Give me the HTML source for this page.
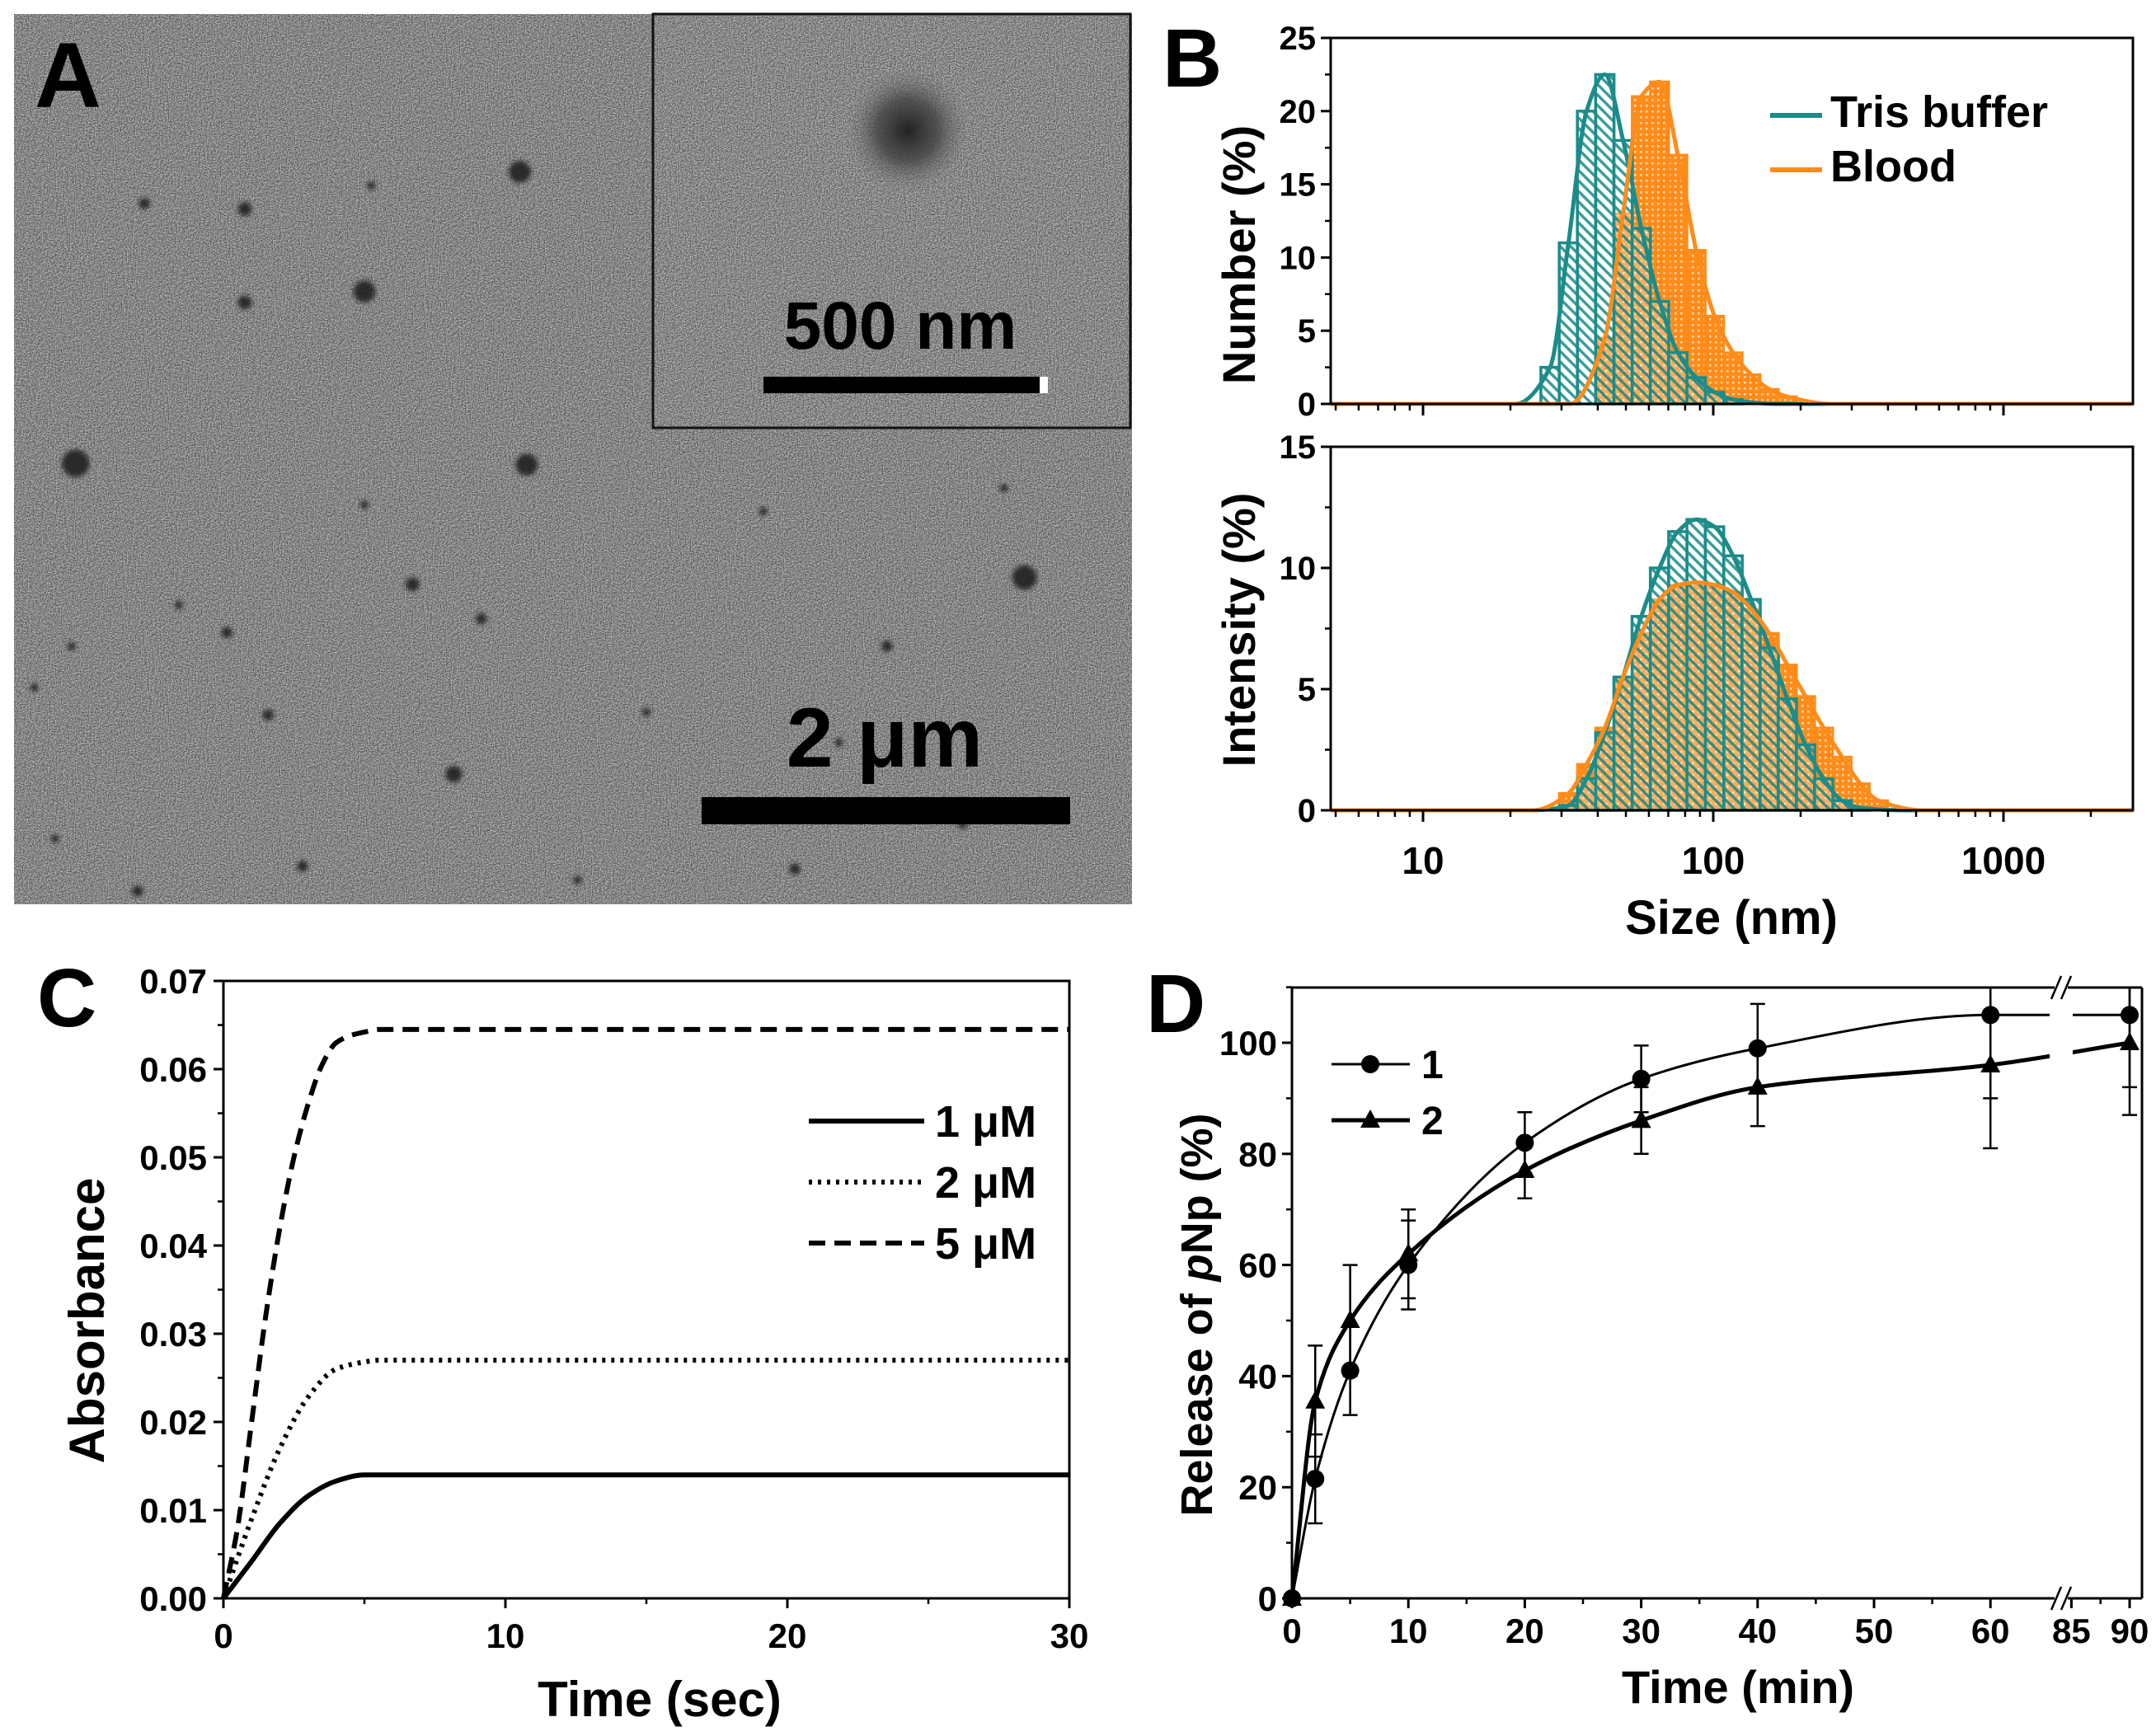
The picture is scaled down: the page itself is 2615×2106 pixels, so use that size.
<!DOCTYPE html>
<html><head><meta charset="utf-8"><title>Figure</title>
<style>
html,body{margin:0;padding:0;background:#fff;}
svg{display:block;}
text{font-family:"Liberation Sans",Arial,sans-serif;font-weight:bold;fill:#000;}
</style></head>
<body>
<svg id="fig" xmlns="http://www.w3.org/2000/svg" width="2615" height="2106" viewBox="0 0 2615 2106">
<defs>
<filter id="noise" x="0" y="0" width="100%" height="100%" color-interpolation-filters="sRGB">
<feTurbulence type="fractalNoise" baseFrequency="0.7" numOctaves="2" seed="3"/>
<feColorMatrix type="saturate" values="0"/>
<feComponentTransfer>
<feFuncR type="linear" slope="2.6" intercept="-0.8"/>
<feFuncG type="linear" slope="2.6" intercept="-0.8"/>
<feFuncB type="linear" slope="2.6" intercept="-0.8"/>
<feFuncA type="table" tableValues="0.5 0.5"/></feComponentTransfer>
</filter>
<filter id="soft" color-interpolation-filters="sRGB"><feGaussianBlur stdDeviation="3"/></filter>
<radialGradient id="blob"><stop offset="0" stop-color="#222"/><stop offset="0.5" stop-color="#444" stop-opacity="0.8"/><stop offset="1" stop-color="#777" stop-opacity="0"/></radialGradient>
<pattern id="hatchT" patternUnits="userSpaceOnUse" width="9" height="9" patternTransform="rotate(-45)">
<rect width="9" height="9" fill="#ffffff" fill-opacity="0.35"/><rect width="3.5" height="9" fill="#1b8c8a"/></pattern>
<pattern id="hatchB" patternUnits="userSpaceOnUse" width="7" height="7">
<rect width="7" height="7" fill="#ff8c1a"/><rect x="1" y="1" width="2.5" height="2.5" fill="#ffd9b0"/></pattern>
</defs>

<g id="panelA">
<rect x="17" y="17" width="1356" height="1080" fill="#8c8c8c"/>
<rect x="17" y="17" width="1356" height="1080" filter="url(#noise)"/>
<g id="dots" filter="url(#soft)"></g>
<rect x="792" y="17" width="579" height="502" fill="#909090" stroke="#111" stroke-width="3"/>
<rect x="794" y="19" width="575" height="498" filter="url(#noise)"/>
<circle cx="1101" cy="158" r="75" fill="url(#blob)"/>
<rect x="926" y="457" width="340" height="20" fill="#000"/>
<rect x="1261" y="457" width="10" height="20" fill="#fff"/>
<text x="1092" y="423" font-size="82" text-anchor="middle">500 nm</text>
<rect x="851" y="967" width="447" height="33" fill="#000"/>
<text x="1073" y="930" font-size="102" text-anchor="middle">2 μm</text>
<text x="42" y="130" font-size="112">A</text>
</g>

<text x="1410" y="105" font-size="100">B</text>
<g id="panelB"></g>
<text x="45" y="1245" font-size="100">C</text>
<g id="panelC"></g>
<text x="1390" y="1252" font-size="100">D</text>
<g id="panelD"></g>
</svg>
<script>
// ===== Panel B data =====
const binSizes = [27.4,31.7,36.6,42.3,48.9,56.5,65.3,75.5,87.3,101,117,135,156,180,208,240,278,321,371,429,496];
const trisNumberIdx = [0,1,2,3,4,5,6,7,8,9,10];
const trisNumber = [2.5,11,20,22.5,18,12,7,3.5,1.8,0.8,0.3];
const bloodNumberIdx = [3,4,5,6,7,8,9,10,11,12,13];
const bloodNumber = [4.5,13,21,22,17,10.5,6,3.5,2,1,0.5];
const trisIntIdx = [1,2,3,4,5,6,7,8,9,10,11,12,13,14,15,16,17];
const trisIntensity = [0.2,1.3,3.2,5.5,8,10,11.5,12,11.7,10.5,8.7,6.7,4.6,2.7,1.3,0.4,0.1];
const bloodIntIdx = [1,2,3,4,5,6,7,8,9,10,11,12,13,14,15,16,17,18];
const bloodIntensity = [0.7,1.9,3.4,5.5,7.3,8.7,9.3,9.4,9.3,9,8.3,7.3,6,4.7,3.4,2.2,1.1,0.4];
const bNumberTicks = [0,5,10,15,20,25];
const bIntTicks = [0,5,10,15];
const bXTicks = [10,100,1000];
// ===== Panel C data =====
const cTime5 = [0,0.5,1,1.5,2,2.5,3,3.5,4,4.5,5,5.5,6,30];
const cAbs5 = [0,0.008,0.02,0.032,0.042,0.05,0.056,0.0605,0.063,0.0638,0.0642,0.0645,0.0645,0.0645];
const cTime2 = [0,1,2,3,4,5,5.5,30];
const cAbs2 = [0,0.009,0.017,0.0228,0.026,0.0268,0.027,0.027];
const cTime1 = [0,1,2,3,4,5,30];
const cAbs1 = [0,0.0042,0.0085,0.0116,0.0133,0.014,0.014];
const cYTicks = [0,0.01,0.02,0.03,0.04,0.05,0.06,0.07];
const cXTicks = [0,10,20,30];
// ===== Panel D data =====
const dTime = [0,2,5,10,20,30,40,60,90];
const dRel1 = [0,21.5,41,60,82,93.5,99,105,105];
const dErr1 = [0,8,8,8,5.5,6,8,15,13];
const dRel2 = [0,35.5,50,62,77,86,92,96,100];
const dErr2 = [0,10,10,8,5,6,7,15,13];
const dYTicks = [0,20,40,60,80,100];
const dXTicks = [0,10,20,30,40,50,60,85,90];

const NS = "http://www.w3.org/2000/svg";
function mk(parent, tag, attrs, txt){ const e=document.createElementNS(NS,tag); for(const k in attrs) e.setAttribute(k,attrs[k]); if(txt!==undefined) e.textContent=txt; parent.appendChild(e); return e; }
// monotone cubic (Fritsch-Carlson) through points sorted by x
function mono(pts){ const n=pts.length; if(n<2) return ""; const dx=[],s=[],m=[];
 for(let i=0;i<n-1;i++){ dx[i]=pts[i+1][0]-pts[i][0]; s[i]=(pts[i+1][1]-pts[i][1])/dx[i]; }
 m[0]=s[0]; m[n-1]=s[n-2];
 for(let i=1;i<n-1;i++){ if(s[i-1]*s[i]<=0) m[i]=0; else { const w1=2*dx[i]+dx[i-1], w2=dx[i]+2*dx[i-1]; m[i]=(w1+w2)/(w1/s[i-1]+w2/s[i]); } }
 let d="M"+pts[0][0]+","+pts[0][1];
 for(let i=0;i<n-1;i++){ const h=dx[i]/3; d+=" C"+(pts[i][0]+h)+","+(pts[i][1]+m[i]*h)+" "+(pts[i+1][0]-h)+","+(pts[i+1][1]-m[i+1]*h)+" "+pts[i+1][0]+","+pts[i+1][1]; }
 return d; }

const dotsG=document.getElementById('dots');
[[378,125,8],[265,212,8],[55,337,10],[383,338,8],[745,420,9],[178,152,5],[105,148,4],[178,220,5],[330,563,6],[300,425,5],[165,460,4],[130,440,3],[350,450,4],[220,630,4],[100,648,4],[578,632,4],[555,372,3],[645,470,4],[470,518,3],[265,367,3],[195,520,4],[52,470,3],[270,135,3],[420,640,3],[610,540,3],[700,600,3],[730,355,3],[25,500,3],[40,610,3]].forEach(p=>{
 const c=mk(dotsG,'circle',{cx:p[0]*1.668,cy:p[1]*1.668,r:p[2]*1.668,fill:'#1a1a1a','fill-opacity':0.85});
 
 
});

// ---- Panel B ----
const B=document.getElementById('panelB');
const bxL=1614,bxR=2587, bx10=1726, bDec=352;
function bx(v){ return bx10+(Math.log10(v)-1)*bDec; }
const halfBin=0.0635/2;
function binEdges(i){ const l=Math.log10(binSizes[i]); return [bx(Math.pow(10,l-halfBin)),bx(Math.pow(10,l+halfBin))]; }
function drawDLS(top,bottom,ymax,ticks,idxT,valT,idxB,valB,title,ttlY,showX){
 const ys=v=>bottom-(v/ymax)*(bottom-top);
 const g=mk(B,'g',{});
 
 
 idxB.forEach((bi,k)=>{ const e=binEdges(bi); const r=mk(g,'rect',{x:e[0],y:ys(valB[k]),width:e[1]-e[0],height:bottom-ys(valB[k]),fill:'url(#hatchB)',stroke:'#ff8c1a','stroke-width':3});
  
   });
 idxT.forEach((bi,k)=>{ const e=binEdges(bi); const r=mk(g,'rect',{x:e[0],y:ys(valT[k]),width:e[1]-e[0],height:bottom-ys(valT[k]),fill:'url(#hatchT)','fill-opacity':0.85,stroke:'#1b8c8a','stroke-width':3.5});
  
   });
 function curve(idx,val,col){ const pts=[[bxL,bottom]]; const first=Math.log10(binSizes[idx[0]]);
  pts.push([bx(Math.pow(10,first-0.12)),bottom]);
  idx.forEach((bi,k)=>pts.push([bx(binSizes[bi]),ys(val[k])]));
  const last=Math.log10(binSizes[idx[idx.length-1]]); pts.push([bx(Math.pow(10,last+0.15)),bottom]); pts.push([bxR,bottom]);
  const p=mk(g,'path',{d:mono(pts),fill:'none',stroke:col,'stroke-width':5});
  
   }
 curve(idxT,valT,'#1b8c8a'); curve(idxB,valB,'#ff8c1a');
 const fr=mk(g,'rect',{x:bxL,y:top,width:bxR-bxL,height:bottom-top,fill:'none',stroke:'#000','stroke-width':3});
 
 
 ticks.forEach(t=>{ mk(g,'line',{x1:bxL-12,x2:bxL,y1:ys(t),y2:ys(t),stroke:'#000','stroke-width':3});
  const tx=mk(g,'text',{x:bxL-18,y:ys(t)+14,'font-size':40,'text-anchor':'end'},String(t));
  
  
  if(t<ymax) mk(g,'line',{x1:bxL-7,x2:bxL,y1:ys(t+2.5),y2:ys(t+2.5),stroke:'#000','stroke-width':2.5}); });
 for(let d=0;d<4;d++) for(let m=1;m<10;m++){ const v=m*Math.pow(10,d); const x=bx(v); if(x<bxL-1||x>bxR+1) continue;
  mk(g,'line',{x1:x,x2:x,y1:bottom,y2:bottom+(m===1?14:8),stroke:'#000','stroke-width':m===1?3:2.5}); }
 const yt=mk(g,'text',{x:0,y:0,'font-size':56,'text-anchor':'middle',transform:`translate(1522,${ttlY}) rotate(-90)`},title);
 
 
 if(showX){ bXTicks.forEach(v=>{ const t=mk(g,'text',{x:bx(v),y:1060,'font-size':46,'text-anchor':'middle'},String(v));
   
    }); }
}
drawDLS(46,490,25,bNumberTicks,trisNumberIdx,trisNumber,bloodNumberIdx,bloodNumber,'Number (%)',309,false);
drawDLS(542,983,15,bIntTicks,trisIntIdx,trisIntensity,bloodIntIdx,bloodIntensity,'Intensity (%)',764,true);
const bxt=mk(B,'text',{x:2100,y:1133,'font-size':58,'text-anchor':'middle'},'Size (nm)');


[['Tris buffer','#1b8c8a',132],['Blood','#ff8c1a',198]].forEach(l=>{
 const lg=mk(B,'g',{});
 
 
 mk(lg,'line',{x1:2147,x2:2210,y1:l[2]+8,y2:l[2]+8,stroke:l[1],'stroke-width':6});
 mk(lg,'text',{x:2220,y:l[2]+22,'font-size':54},l[0]);
});

// ---- Panel C ----
const C=document.getElementById('panelC');
const cL=271,cR=1297,cT=1190,cB=1939;
const cx=t=>cL+t/30*(cR-cL), cy=v=>cB-v/0.07*(cB-cT);
const cf=mk(C,'rect',{x:cL,y:cT,width:cR-cL,height:cB-cT,fill:'none',stroke:'#000','stroke-width':3});


cYTicks.forEach(v=>{ mk(C,'line',{x1:cL-12,x2:cL,y1:cy(v),y2:cy(v),stroke:'#000','stroke-width':3});
 if(v<0.07) mk(C,'line',{x1:cL-7,x2:cL,y1:cy(v+0.005),y2:cy(v+0.005),stroke:'#000','stroke-width':2.5});
 const t=mk(C,'text',{x:cL-20,y:cy(v)+15,'font-size':42,'text-anchor':'end'},v.toFixed(2));
 
  });
cXTicks.forEach(v=>{ mk(C,'line',{x1:cx(v),x2:cx(v),y1:cB,y2:cB+12,stroke:'#000','stroke-width':3});
 if(v<30) mk(C,'line',{x1:cx(v+5),x2:cx(v+5),y1:cB,y2:cB+7,stroke:'#000','stroke-width':2.5});
 const t=mk(C,'text',{x:cx(v),y:1999,'font-size':42,'text-anchor':'middle'},String(v));
 
  });
[[cTime1,cAbs1,'none','curve-1uM'],[cTime2,cAbs2,'4,7','curve-2uM'],[cTime5,cAbs5,'20,11','curve-5uM']].forEach(s=>{
 const pts=s[0].map((t,i)=>[cx(t),cy(s[1][i])]);
 const p=mk(C,'path',{d:mono(pts),fill:'none',stroke:'#000','stroke-width':6,'stroke-dasharray':s[2]});
 
 
});
[['1 μM','none',1360],['2 μM','4,7',1434],['5 μM','20,11',1508]].forEach(l=>{
 const lg=mk(C,'g',{});
 
 
 mk(lg,'line',{x1:981,x2:1121,y1:l[2],y2:l[2],stroke:'#000','stroke-width':6,'stroke-dasharray':l[1]});
 mk(lg,'text',{x:1134,y:l[2]+19,'font-size':54},l[0]);
});
const cyt=mk(C,'text',{x:0,y:0,'font-size':60,'text-anchor':'middle',transform:'translate(126,1602) rotate(-90)'},'Absorbance');


const cxt=mk(C,'text',{x:800,y:2082,'font-size':60,'text-anchor':'middle'},'Time (sec)');



// ---- Panel D ----
const D=document.getElementById('panelD');
const dL=1567,dR=2598,dT=1198,dB=1939, dPx=14.12, brk=2500;
const dx=t=> t<=70 ? dL+t*dPx : 2583-(90-t)*dPx;
const dy=v=>dB-v*(dB-1265)/100;
mk(D,'line',{x1:dL,x2:dL,y1:dT,y2:dB,stroke:'#000','stroke-width':3});
mk(D,'line',{x1:dR,x2:dR,y1:dT,y2:dB,stroke:'#000','stroke-width':3});
[dT,dB].forEach(y=>{ mk(D,'line',{x1:dL,x2:brk-8,y1:y,y2:y,stroke:'#000','stroke-width':3});
 mk(D,'line',{x1:brk+8,x2:dR,y1:y,y2:y,stroke:'#000','stroke-width':3});
 [-6,6].forEach(o=>mk(D,'line',{x1:brk+o-6,x2:brk+o+6,y1:y+14,y2:y-14,stroke:'#000','stroke-width':2.5})); });
dYTicks.forEach(v=>{ mk(D,'line',{x1:dL-12,x2:dL,y1:dy(v),y2:dy(v),stroke:'#000','stroke-width':3});
 mk(D,'line',{x1:dL-7,x2:dL,y1:dy(v+10),y2:dy(v+10),stroke:'#000','stroke-width':2.5});
 const t=mk(D,'text',{x:dL-18,y:dy(v)+15,'font-size':42,'text-anchor':'end'},String(v));
 
  });
dXTicks.forEach(v=>{ mk(D,'line',{x1:dx(v),x2:dx(v),y1:dB,y2:dB+12,stroke:'#000','stroke-width':3});
 const t=mk(D,'text',{x:dx(v),y:1993,'font-size':42,'text-anchor':'middle'},String(v));
 
  });
[5,15,25,35,45,55,87.5].forEach(v=>mk(D,'line',{x1:dx(v),x2:dx(v),y1:dB,y2:dB+7,stroke:'#000','stroke-width':2.5}));
const clip=mk(D,'clipPath',{id:'dclip'});
mk(clip,'rect',{x:dL,y:dT-20,width:brk-14-dL,height:800});
mk(clip,'rect',{x:brk+14,y:dT-20,width:dR-brk,height:800});
function series(vals,errs,marker,sw,name){
 const g=mk(D,'g',{});
 
 
 const pts=dTime.map((t,i)=>[dx(t),dy(vals[i])]);
 mk(g,'path',{d:mono(pts),fill:'none',stroke:'#000','stroke-width':sw,'clip-path':'url(#dclip)'});
 dTime.forEach((t,i)=>{ if(errs[i]>0){ const x=dx(t), y1=Math.max(dT,dy(vals[i]+errs[i])), y2=dy(vals[i]-errs[i]);
  mk(g,'line',{x1:x,x2:x,y1:y1,y2:y2,stroke:'#000','stroke-width':2.5});
  if(dy(vals[i]+errs[i])>=dT) mk(g,'line',{x1:x-9,x2:x+9,y1:y1,y2:y1,stroke:'#000','stroke-width':2.5});
  mk(g,'line',{x1:x-9,x2:x+9,y1:y2,y2:y2,stroke:'#000','stroke-width':2.5}); }
  const x=dx(t),y=dy(vals[i]); let m;
  if(marker==='c') m=mk(g,'circle',{cx:x,cy:y,r:11,fill:'#000'});
  else m=mk(g,'polygon',{points:`${x},${y-13} ${x-12},${y+9} ${x+12},${y+9}`,fill:'#000'});
  
   });
}
series(dRel1,dErr1,'c',3,'series-1');
series(dRel2,dErr2,'t',5,'series-2');
[['1','c',1291,3],['2','t',1359,5]].forEach(l=>{
 const lg=mk(D,'g',{});
 
 
 mk(lg,'line',{x1:1615,x2:1710,y1:l[2],y2:l[2],stroke:'#000','stroke-width':l[3]});
 if(l[1]==='c') mk(lg,'circle',{cx:1662,cy:l[2],r:11,fill:'#000'});
 else mk(lg,'polygon',{points:`1662,${l[2]-13} 1650,${l[2]+9} 1674,${l[2]+9}`,fill:'#000'});
 mk(lg,'text',{x:1724,y:l[2]+17,'font-size':48},l[0]);
});
const dyt=mk(D,'text',{x:0,y:0,'font-size':54,'text-anchor':'middle',transform:'translate(1470,1595) rotate(-90)'});


mk(dyt,'tspan',{},'Release of ');
mk(dyt,'tspan',{'font-style':'italic'},'p');
mk(dyt,'tspan',{},'Np (%)');
const dxt=mk(D,'text',{x:2108,y:2066,'font-size':56,'text-anchor':'middle'},'Time (min)');


</script>
</body></html>
